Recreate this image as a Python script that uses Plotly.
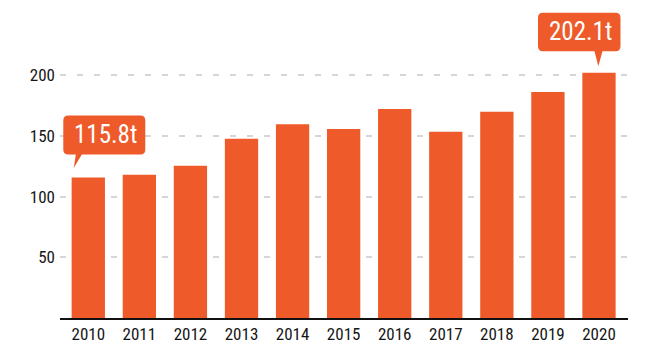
import plotly.graph_objects as go

years = ["2010", "2011", "2012", "2013", "2014", "2015", "2016", "2017", "2018", "2019", "2020"]
values = [115.8, 118.0, 125.5, 147.7, 159.5, 155.7, 172.2, 153.5, 169.9, 186.2, 202.1]
y_ticks = [50, 100, 150, 200]
callout_idx = [0, 10]

BAR = "#EE5A29"
FONT = "Roboto Condensed, Liberation Sans Narrow, DejaVu Sans Condensed, sans-serif"


def bubble_path(x0, x1, y0, y1, pl, pr, tx, ty, r=5):
    pts = [
        f"M{x0 + r},{y1}", f"L{x1 - r},{y1}", f"Q{x1},{y1} {x1},{y1 - r}",
        f"L{x1},{y0 + r}", f"Q{x1},{y0} {x1 - r},{y0}",
        f"L{pr},{y0}", f"L{tx},{ty}", f"L{pl},{y0}",
        f"L{x0 + r},{y0}", f"Q{x0},{y0} {x0},{y0 + r}",
        f"L{x0},{y1 - r}", f"Q{x0},{y1} {x0 + r},{y1}", "Z",
    ]
    return " ".join(pts)


# pixel geometry of the two speech bubbles relative to the bar top centre
bubble_geom = {
    0: dict(x0=-25, x1=57, y0=23, y1=62, pl=-12.5, pr=-6.5, tx=-14.5, ty=9.5),
    10: dict(x0=-61, x1=21.5, y0=21.5, y1=60, pl=-4.5, pr=3.5, tx=-0.7, ty=6.5),
}

fig = go.Figure(
    go.Bar(x=years, y=values, marker=dict(color=BAR, line=dict(width=0)),
           hoverinfo="skip")
)

shapes = []
annotations = []
for i in callout_idx:
    g = bubble_geom[i]
    shapes.append(dict(
        type="path", xref="x", yref="y", xsizemode="pixel", ysizemode="pixel",
        xanchor=i, yanchor=values[i], path=bubble_path(**g),
        fillcolor=BAR, line=dict(width=0), layer="above",
    ))
    annotations.append(dict(
        x=i, y=values[i], xref="x", yref="y", showarrow=False,
        text=f"{values[i]}t", xanchor="center", yanchor="middle",
        xshift=(g["x0"] + g["x1"]) / 2 + 1, yshift=(g["y0"] + g["y1"]) / 2,
        font=dict(family=FONT, size=25, color="white"),
    ))

fig.update_layout(
    width=658, height=357,
    margin=dict(l=60, r=30, t=5, b=39),
    paper_bgcolor="white", plot_bgcolor="white",
    bargap=0.348,
    showlegend=False,
    shapes=shapes, annotations=annotations,
    font=dict(family=FONT, color="#151515"),
    xaxis=dict(
        type="category", range=[-0.554, 10.568],
        showline=True, linecolor="#111111", linewidth=2,
        showgrid=False, ticks="", tickfont=dict(size=17, color="#151515"),
        fixedrange=True,
    ),
    yaxis=dict(
        range=[0, 257.8], tickvals=y_ticks, ticktext=[str(v) for v in y_ticks],
        showgrid=True, gridcolor="#d6d6d6", gridwidth=1.5, griddash="6px,11px",
        zeroline=False, showline=False, ticks="",
        tickfont=dict(size=17, color="#151515"), ticklabelstandoff=4,
        fixedrange=True,
    ),
)

fig.write_html("out.html", config={"displayModeBar": False},
               post_script="document.body.style.margin='0';")
